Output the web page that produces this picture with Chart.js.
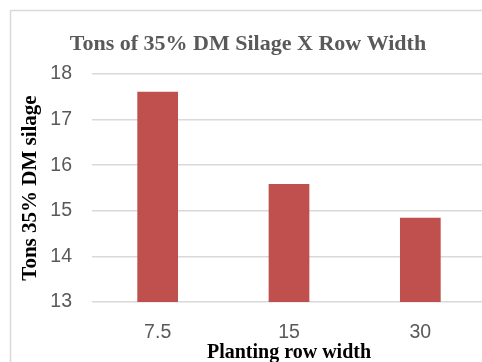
<!DOCTYPE html>
<html>
<head>
<meta charset="utf-8">
<script src="https://cdn.jsdelivr.net/npm/chart.js@4"></script>
<style>
    html, body { margin: 0; padding: 0; background: #ffffff; overflow: hidden; }
    #silage_chart { display: block; }
</style>
</head>
<body>
<canvas id="silage_chart" width="492" height="365"></canvas>
<script>
const row_widths = ['7.5', '15', '30'];
const tons_silage = [17.61, 15.59, 14.85];
const y_min = 13;
const y_max = 18;

const frame_plugin = {
    id: 'frame',
    beforeDraw: function(chart) {
        const ctx = chart.ctx;
        ctx.save();
        ctx.fillStyle = '#ffffff';
        ctx.fillRect(0, 0, chart.width, chart.height);
        ctx.strokeStyle = '#d9d9d9';
        ctx.lineWidth = 1.5;
        ctx.strokeRect(10.5, 10.5, chart.width, chart.height);
        ctx.restore();
    }
};

function make_silage_chart() {
    const element = document.getElementById('silage_chart');

    const data = {
        labels: row_widths,
        datasets: [
            {
                label: 'Tons 35% DM silage',
                data: tons_silage,
                backgroundColor: '#c0504d',
                borderWidth: 0,
                categoryPercentage: 1,
                barPercentage: 0.31
            }
        ]
    };

    const options = {
        responsive: false,
        animation: false,
        layout: {
            padding: { left: 10, right: 6, top: 0, bottom: 0 }
        },
        plugins: {
            legend: { display: false },
            tooltip: { enabled: false },
            title: {
                display: true,
                text: 'Tons of 35% DM Silage X Row Width',
                color: '#595959',
                font: { family: 'Liberation Serif', size: 22, weight: 'bold' },
                padding: { top: 31, bottom: 16.6 }
            }
        },
        scales: {
            x: {
                grid: { display: false },
                border: { display: false },
                ticks: {
                    color: '#595959',
                    font: { family: 'Liberation Sans', size: 19.5 },
                    padding: 11
                },
                title: {
                    display: true,
                    text: 'Planting row width',
                    color: '#000000',
                    font: { family: 'Liberation Serif', size: 20, weight: 'bold' },
                    padding: { top: 0, bottom: 0 }
                },
                afterFit: function(scale) {
                    scale.height = 63;
                }
            },
            y: {
                min: y_min,
                max: y_max,
                grid: { color: '#d9d9d9', lineWidth: 1.5, drawTicks: false },
                border: { display: false },
                ticks: {
                    stepSize: 1,
                    color: '#595959',
                    font: { family: 'Liberation Sans', size: 19.5 },
                    padding: 20
                },
                title: {
                    display: true,
                    text: 'Tons 35% DM silage',
                    color: '#000000',
                    font: { family: 'Liberation Serif', size: 21, weight: 'bold' },
                    padding: { top: 8, bottom: 0 }
                },
                afterFit: function(scale) {
                    scale.width = 82;
                }
            }
        }
    };

    return new Chart(element, {
        type: 'bar',
        data: data,
        options: options,
        plugins: [frame_plugin]
    });
}

make_silage_chart();
</script>
</body>
</html>
